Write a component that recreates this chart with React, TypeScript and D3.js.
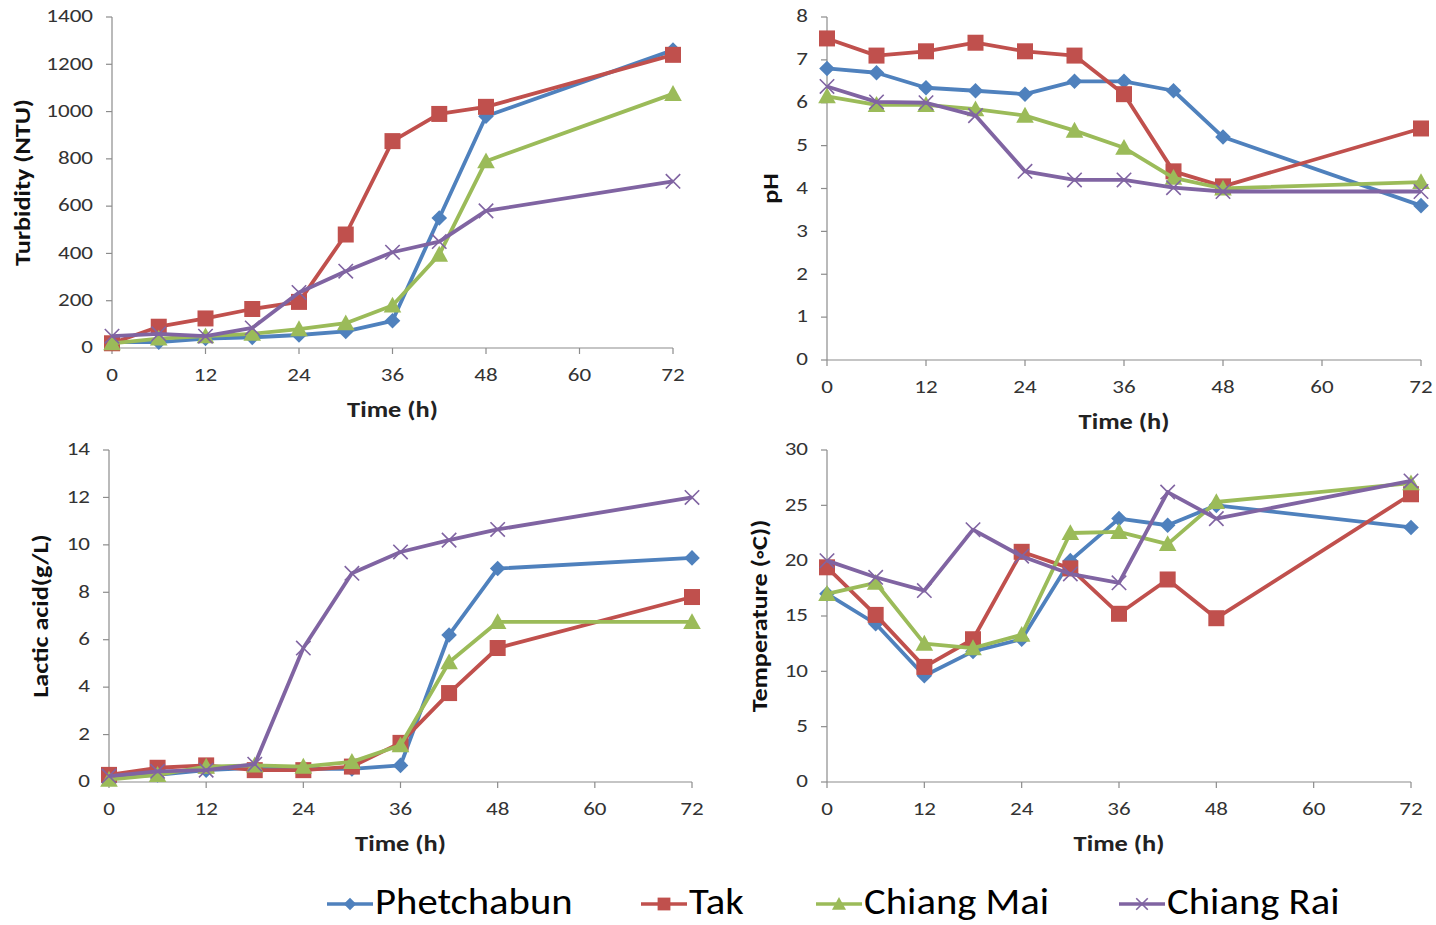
import React from 'react';
import * as d3 from 'd3';

const hours = [0, 6, 12, 18, 24, 30, 36, 42, 48, 72];
const xTicks = [0, 12, 24, 36, 48, 60, 72];

const seriesNames = ['Phetchabun', 'Tak', 'Chiang Mai', 'Chiang Rai'];
const seriesColors = ['#4f81bd', '#c0504d', '#9bbb59', '#8064a2'];
const seriesMarkers = ['diamond', 'square', 'triangle', 'cross'];

// turbidity (NTU)
const turbPhetchabun = [25, 25, 40, 45, 55, 70, 115, 550, 980, 1260];
const turbTak = [20, 90, 125, 165, 195, 480, 875, 990, 1020, 1240];
const turbChiangMai = [20, 40, 50, 60, 80, 105, 180, 395, 790, 1075];
const turbChiangRai = [50, 60, 50, 85, 235, 325, 405, 450, 580, 705];

// pH
const phPhetchabun = [6.8, 6.7, 6.35, 6.28, 6.2, 6.5, 6.5, 6.28, 5.2, 3.6];
const phTak = [7.5, 7.1, 7.2, 7.4, 7.2, 7.1, 6.2, 4.4, 4.05, 5.4];
const phChiangMai = [6.15, 5.95, 5.95, 5.85, 5.7, 5.35, 4.95, 4.25, 4.0, 4.15];
const phChiangRai = [6.38, 6.02, 6.0, 5.7, 4.4, 4.2, 4.2, 4.02, 3.93, 3.93];

// lactic acid (g/L)
const laPhetchabun = [0.2, 0.3, 0.5, 0.6, 0.55, 0.55, 0.7, 6.2, 9.0, 9.45];
const laTak = [0.3, 0.6, 0.7, 0.5, 0.5, 0.65, 1.65, 3.75, 5.65, 7.8];
const laChiangMai = [0.1, 0.3, 0.65, 0.7, 0.65, 0.85, 1.55, 5.05, 6.75, 6.75];
const laChiangRai = [0.25, 0.45, 0.5, 0.75, 5.65, 8.8, 9.7, 10.2, 10.65, 12.0];

// temperature (°C)
const tempPhetchabun = [17.0, 14.3, 9.6, 11.8, 12.9, 20.0, 23.8, 23.2, 25.0, 23.0];
const tempTak = [19.4, 15.1, 10.4, 12.9, 20.8, 19.3, 15.2, 18.3, 14.8, 26.0];
const tempChiangMai = [17.0, 18.0, 12.5, 12.1, 13.3, 22.5, 22.6, 21.5, 25.3, 27.0];
const tempChiangRai = [20.0, 18.5, 17.3, 22.8, 20.4, 18.8, 18.0, 26.2, 23.8, 27.2];

const FONT = 'Carlito, Lato, "Open Sans", sans-serif';
const AXIS = '#8c8c8c';

// the source picture is a bit stretched sideways, so text is widened a little
function T({ x, y, rot = 0, sx = 1.2, children, ...rest }) {
  return (
    <text
      transform={`translate(${x},${y}) rotate(${rot}) scale(${sx},1)`}
      dominantBaseline="middle"
      {...rest}
    >
      {children}
    </text>
  );
}

function Marker({ type, x, y, color, s = 1 }) {
  if (type === 'diamond') {
    const r = 7.8 * s;
    return <path d={`M${x},${y - r}L${x + r},${y}L${x},${y + r}L${x - r},${y}Z`} fill={color} />;
  }
  if (type === 'square') {
    const h = 8 * s;
    return <rect x={x - h} y={y - h} width={h * 2} height={h * 2} fill={color} />;
  }
  if (type === 'triangle') {
    const h = 8.8 * s;
    return <path d={`M${x},${y - h}L${x + h},${y + h * 0.8}L${x - h},${y + h * 0.8}Z`} fill={color} />;
  }
  const r = 7.2 * s;
  return (
    <path
      d={`M${x - r},${y - r}L${x + r},${y + r}M${x - r},${y + r}L${x + r},${y - r}`}
      stroke={color}
      strokeWidth={1.6}
      fill="none"
    />
  );
}

function Panel({ cfg }) {
  const x = d3.scaleLinear().domain([0, 72]).range([cfg.x0, cfg.x1]);
  const y = d3.scaleLinear().domain([0, cfg.yMax]).range([cfg.y0, cfg.y1]);
  const yTicks = d3.range(0, cfg.yMax + cfg.yStep / 2, cfg.yStep);
  const line = d3
    .line()
    .x((d) => x(d[0]))
    .y((d) => y(d[1]));
  const midX = (cfg.x0 + cfg.x1) / 2;
  const midY = (cfg.y0 + cfg.y1) / 2;

  return (
    <g>
      <line x1={cfg.x0} x2={cfg.x0} y1={cfg.y1} y2={cfg.y0} stroke={AXIS} strokeWidth={1.2} />
      <line x1={cfg.x0} x2={cfg.x1} y1={cfg.y0} y2={cfg.y0} stroke={AXIS} strokeWidth={1.2} />
      {yTicks.map((t) => (
        <g key={'y' + t}>
          <line x1={cfg.x0 - 6} x2={cfg.x0} y1={y(t)} y2={y(t)} stroke={AXIS} strokeWidth={1.2} />
          <T x={cfg.x0 - 19} y={y(t) + 1} sx={1.28} textAnchor="end" fontSize={18} fill="#333">
            {t}
          </T>
        </g>
      ))}
      {xTicks.map((t) => (
        <g key={'x' + t}>
          <line x1={x(t)} x2={x(t)} y1={cfg.y0} y2={cfg.y0 + 6} stroke={AXIS} strokeWidth={1.2} />
          <T x={x(t)} y={cfg.y0 + 29} sx={1.28} textAnchor="middle" fontSize={18} fill="#333">
            {t}
          </T>
        </g>
      ))}
      <T x={midX} y={cfg.y0 + 64} sx={1.2} textAnchor="middle" fontSize={22} fontWeight="bold" fill="#222">
        Time (h)
      </T>
      <T x={cfg.labelX} y={midY} rot={-90} sx={1.19} textAnchor="middle" fontSize={22} fontWeight="bold" fill="#111">
        {cfg.yLabel}
      </T>
      {cfg.series.map((vals, i) => {
        const pts = hours.map((h, j) => [h, vals[j]]);
        return (
          <g key={seriesNames[i]}>
            <path d={line(pts)} fill="none" stroke={seriesColors[i]} strokeWidth={3.8} strokeLinejoin="round" />
            {pts.map((p, j) => (
              <Marker key={j} type={seriesMarkers[i]} x={x(p[0])} y={y(p[1])} color={seriesColors[i]} />
            ))}
          </g>
        );
      })}
    </g>
  );
}

const panels = [
  {
    id: 'turbidity', x0: 112, x1: 673, y0: 348, y1: 17, yMax: 1400, yStep: 200,
    yLabel: 'Turbidity (NTU)', labelX: 25,
    series: [turbPhetchabun, turbTak, turbChiangMai, turbChiangRai],
  },
  {
    id: 'ph', x0: 827, x1: 1421, y0: 360, y1: 17, yMax: 8, yStep: 1,
    yLabel: 'pH', labelX: 773,
    series: [phPhetchabun, phTak, phChiangMai, phChiangRai],
  },
  {
    id: 'lactic', x0: 109, x1: 692, y0: 782, y1: 450, yMax: 14, yStep: 2,
    yLabel: 'Lactic acid(g/L)', labelX: 43,
    series: [laPhetchabun, laTak, laChiangMai, laChiangRai],
  },
  {
    id: 'temp', x0: 827, x1: 1411, y0: 782, y1: 450, yMax: 30, yStep: 5,
    yLabel: 'Temperature (\u25E6C))', labelX: 762,
    series: [tempPhetchabun, tempTak, tempChiangMai, tempChiangRai],
  },
];

const legendX = [327, 641, 816, 1119];

export default function App() {
  return (
    <svg
      width={1436}
      height={925}
      style={{ position: 'absolute', left: 0, top: 0, background: '#fff' }}
      fontFamily={FONT}
    >
      <rect width={1436} height={925} fill="#fff" />
      {panels.map((p) => (
        <Panel key={p.id} cfg={p} />
      ))}
      {seriesNames.map((name, i) => {
        const lx = legendX[i];
        const ly = 904;
        return (
          <g key={name}>
            <line x1={lx} x2={lx + 46} y1={ly} y2={ly} stroke={seriesColors[i]} strokeWidth={3.6} />
            <Marker type={seriesMarkers[i]} x={lx + 23} y={ly} color={seriesColors[i]} s={0.8} />
            <T x={lx + 48} y={ly + 1} sx={1.13} fontSize={36} fill="#000">
              {name}
            </T>
          </g>
        );
      })}
    </svg>
  );
}
